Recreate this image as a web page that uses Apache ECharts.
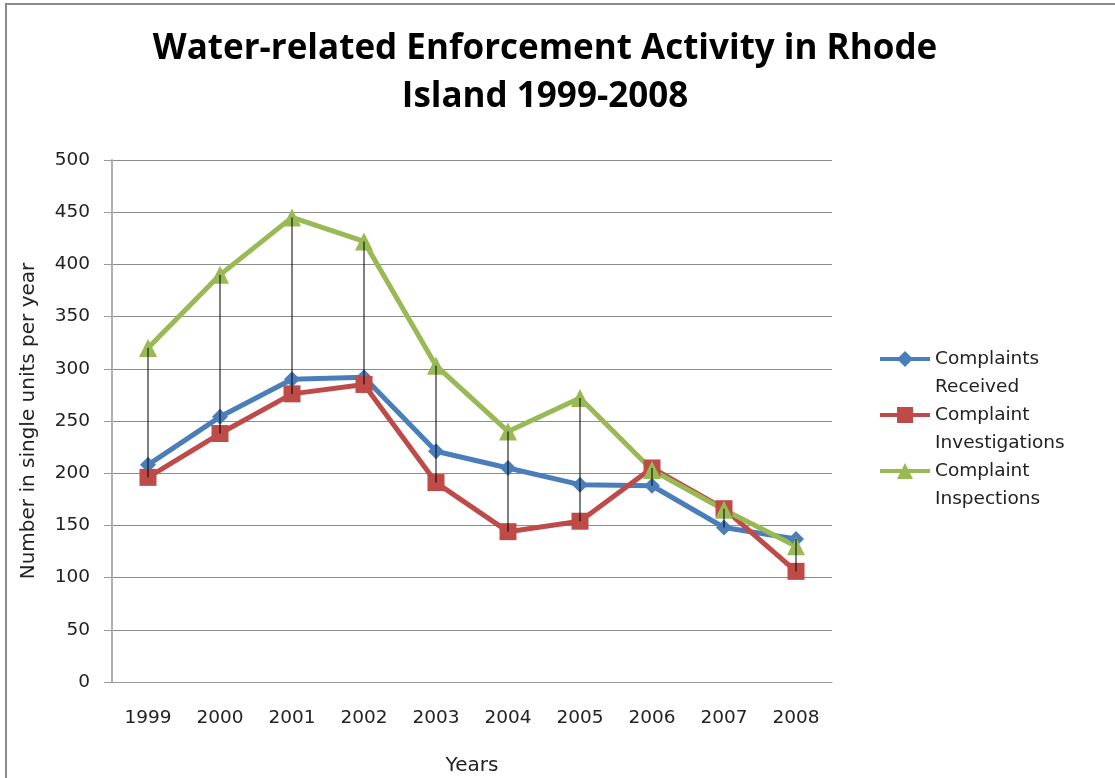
<!DOCTYPE html>
<html>
<head>
<meta charset="utf-8">
<script src="https://cdn.jsdelivr.net/npm/echarts@6/dist/echarts.min.js"></script>
<style>
  html, body { margin: 0; padding: 0; background: #fff; }
  #chart { width: 1115px; height: 778px; }
</style>
</head>
<body>
<div id="chart"></div>
<script>
const years = ['1999', '2000', '2001', '2002', '2003', '2004', '2005', '2006', '2007', '2008'];
const received = [208, 254, 290, 292, 221, 205, 189, 188, 148, 137];
const investigations = [196, 238, 276, 285, 191, 144, 154, 205, 166, 106];
const inspections = [320, 390, 445, 422, 303, 240, 272, 203, 165, 130];
const yTicks = [0, 50, 100, 150, 200, 250, 300, 350, 400, 450, 500];

const BLUE = '#4a7ebb';
const RED = '#be4b48';
const GREEN = '#98b954';
const FONT = 'DejaVu Sans';

// high-low lines: from the lowest to the highest value of each year
const hiLo = years.map((y, i) => {
  const vals = [received[i], investigations[i], inspections[i]];
  return [i, Math.min(...vals), Math.max(...vals)];
});

const chart = echarts.init(document.getElementById('chart'));

const lineSeries = (name, data, color, symbol, size) => ({
  name,
  type: 'line',
  data,
  symbol,
  symbolSize: size,
  showSymbol: true,
  lineStyle: { color, width: 5 },
  itemStyle: { color },
  z: 3,
});

chart.setOption({
  animation: false,
  title: {
    text: 'Water-related Enforcement Activity in Rhode\nIsland 1999-2008',
    left: 540,
    textAlign: 'center',
    top: 20,
    textStyle: {
      fontFamily: 'Open Sans',
      fontWeight: 'bold',
      fontSize: 35,
      lineHeight: 48,
      color: '#000',
    },
  },
  grid: { left: 112, right: 283, top: 160, bottom: 96, outerBoundsMode: 'none' },
  legend: {
    orient: 'vertical',
    left: 873,
    top: 312,
    itemWidth: 50,
    itemHeight: 20,
    itemGap: -28,
    data: ['Complaints\nReceived', 'Complaint\nInvestigations', 'Complaint\nInspections'],
    // leading empty line keeps the first line level with the icon
    formatter: name => '\n' + name,
    lineStyle: { width: 4 },
    textStyle: {
      fontFamily: FONT,
      fontSize: 18.5,
      lineHeight: 28,
      color: '#222',
    },
  },
  xAxis: {
    type: 'category',
    data: years,
    boundaryGap: true,
    name: 'Years',
    nameLocation: 'middle',
    nameGap: 74,
    nameTextStyle: { fontFamily: FONT, fontSize: 20, color: '#222' },
    axisLine: { lineStyle: { color: '#9a9a9a', width: 1 } },
    axisTick: { show: false },
    axisLabel: { fontFamily: FONT, fontSize: 18.5, color: '#222', margin: 27 },
  },
  yAxis: {
    type: 'value',
    min: 0,
    max: 500,
    interval: 50,
    name: 'Number in single units per year',
    nameLocation: 'middle',
    nameGap: 73,
    nameTextStyle: { fontFamily: FONT, fontSize: 20, color: '#222' },
    axisLine: { show: true, lineStyle: { color: '#b0b0b0', width: 2 } },
    axisTick: { show: true, length: 8, lineStyle: { color: '#9a9a9a' } },
    axisLabel: {
      fontFamily: FONT, fontSize: 18.5, color: '#222', margin: 22,
      formatter: v => (yTicks.includes(v) ? String(v) : ''),
    },
    splitLine: { lineStyle: { color: '#8c8c8c', width: 1 } },
  },
  graphic: [{
    type: 'rect',
    shape: { x: 6, y: 4, width: 1300, height: 1000 },
    style: { fill: 'none', stroke: '#8a8a8a', lineWidth: 2 },
    silent: true,
    z: -1,
  }],
  series: [
    lineSeries('Complaints\nReceived', received, BLUE, 'diamond', 16),
    lineSeries('Complaint\nInvestigations', investigations, RED, 'rect', 17),
    lineSeries('Complaint\nInspections', inspections, GREEN, 'triangle', 18),
    {
      type: 'custom',
      data: hiLo,
      z: 10,
      silent: true,
      renderItem: (params, api) => {
        const lo = api.coord([api.value(0), api.value(1)]);
        const hi = api.coord([api.value(0), api.value(2)]);
        return {
          type: 'line',
          shape: { x1: lo[0], y1: lo[1], x2: hi[0], y2: hi[1] },
          style: { stroke: '#000', lineWidth: 1 },
        };
      },
    },
  ],
});
</script>
</body>
</html>
